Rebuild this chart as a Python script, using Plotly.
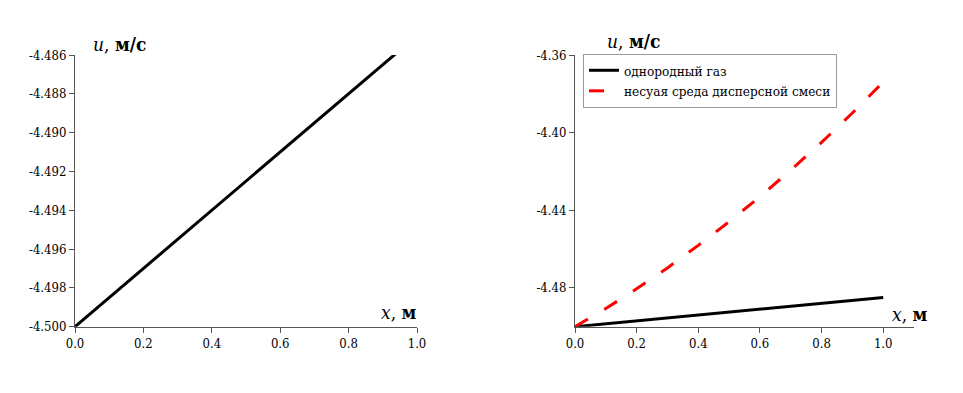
import plotly.graph_objects as go

# Data
x_gas = [0.0, 1.0]
u_gas = [-4.500, -4.485]

x_mix = [0.0, 0.1, 0.2, 0.3, 0.4, 0.5, 0.6, 0.7, 0.8, 0.9, 1.0]
u_mix = [-4.5000, -4.4906, -4.4805, -4.4697, -4.4581, -4.4459, -4.4330,
         -4.4193, -4.4050, -4.3899, -4.3740]

left_yticks = [-4.500, -4.498, -4.496, -4.494, -4.492, -4.490, -4.488, -4.486]
right_yticks = [-4.48, -4.44, -4.40, -4.36]
xticks = [0.0, 0.2, 0.4, 0.6, 0.8, 1.0]

name_gas = "однородный газ"
name_mix = "несуая среда дисперсной смеси"

FONT = "DejaVu Serif Condensed, DejaVu Serif"
AXC = "#555555"
OFF = 8  # page body margin

W, H = 963, 393

def px(x):
    return (x - OFF) / W

def py(y):
    return (H - (y - OFF)) / H

fig = go.Figure()
fig.add_trace(go.Scatter(x=x_gas, y=u_gas, mode="lines", line=dict(color="black", width=3),
                         xaxis="x", yaxis="y", showlegend=False))
fig.add_trace(go.Scatter(x=x_gas, y=u_gas, mode="lines", line=dict(color="black", width=3),
                         xaxis="x2", yaxis="y2", name=name_gas))
fig.add_trace(go.Scatter(x=x_mix, y=u_mix, mode="lines",
                         line=dict(color="#ff0000", width=3, dash="15px,19px"),
                         xaxis="x2", yaxis="y2", name=name_mix))

ydom = [py(326.7), py(55)]
axis_common = dict(showgrid=False, zeroline=False, showline=True, linecolor=AXC, linewidth=1,
                   ticks="outside", ticklen=5, tickcolor=AXC, tickwidth=1, automargin=False,
                   tickfont=dict(family=FONT, size=13, color="black"))

fig.update_layout(
    template="none",
    width=W, height=H,
    margin=dict(l=0, r=0, t=0, b=0, pad=0),
    plot_bgcolor="white", paper_bgcolor="white",
    font=dict(family=FONT, color="black"),
    xaxis=dict(domain=[px(75), px(417)], range=[0, 1], tickvals=xticks,
               ticktext=[f"{v:.1f}" for v in xticks], anchor="y", **axis_common),
    yaxis=dict(domain=ydom, range=[-4.500, -4.486], tickvals=left_yticks,
               ticktext=[f"{v:.3f}" for v in left_yticks], anchor="x", **axis_common),
    xaxis2=dict(domain=[px(575), px(914)], range=[0, 1.1], tickvals=xticks,
                ticktext=[f"{v:.1f}" for v in xticks], anchor="y2", **axis_common),
    yaxis2=dict(domain=ydom, range=[-4.50, -4.36], tickvals=right_yticks,
                ticktext=[f"{v:.2f}" for v in right_yticks], anchor="x2", **axis_common),
    legend=dict(x=px(583), y=py(54), xanchor="left", yanchor="top",
                bordercolor="#999999", borderwidth=1, bgcolor="white",
                font=dict(family=FONT, size=13.5, color="black"),
                tracegroupgap=0),
    showlegend=True,
)

def ann(x, y, text):
    fig.add_annotation(x=px(x), y=py(y), xref="paper", yref="paper",
                       text=text, showarrow=False, xanchor="left", yanchor="middle",
                       font=dict(family=FONT, size=19, color="black"))

ann(91, 44, "<i>u</i>, <b>м/с</b>")
ann(605, 41, "<i>u</i>, <b>м/с</b>")
ann(379, 312, "<i>x</i>, <b>м</b>")
ann(890, 314, "<i>x</i>, <b>м</b>")

fig.write_html("out.html")
